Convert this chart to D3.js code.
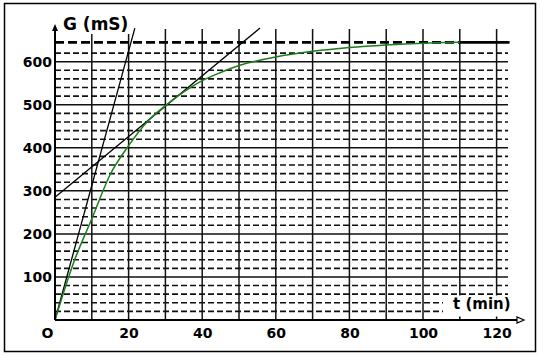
<!DOCTYPE html>
<html>
<head>
<meta charset="utf-8">
<script src="https://cdn.jsdelivr.net/npm/d3@7"></script>
<style>
  body { margin: 0; background: #fff; }
  svg { display: block; }
</style>
</head>
<body>
<div id="chart"></div>
<script>
// data
var xTickLabels = [0, 20, 40, 60, 80, 100, 120];
var yTickLabels = [100, 200, 300, 400, 500, 600];
var vGrid = [10, 20, 30, 40, 50, 60, 70, 80, 90, 100, 110, 120];
var hMajor = [100, 200, 300, 400, 500, 600];
var hMinor = [20, 40, 60, 80, 120, 140, 160, 180, 220, 240, 260, 280, 320, 340, 360, 380,
    420, 440, 460, 480, 520, 540, 560, 580, 620];
var asymptote = 645;

// measured conductance curve
var curveT = [0, 5, 10, 15, 20, 25, 30, 35, 40, 45, 50, 60, 70, 80, 90, 100, 110, 123.5];
var curveG = [0, 132, 235, 338, 405, 460, 498, 530, 556, 575, 591, 611, 624, 633, 639, 643, 645, 645];

// tangent lines (at t = 0 and t = 30)
var tangent1T = [0, 21.7];
var tangent1G = [0, 678];
var tangent2T = [0, 55.7];
var tangent2G = [285, 678];

var width = 545, height = 356;

var svg = d3.select("#chart")
    .append("svg")
    .attr("width", width)
    .attr("height", height);

var x = d3.scaleLinear().domain([0, 120]).range([55, 496.6]);
var y = d3.scaleLinear().domain([0, 600]).range([320, 61.7]);

var gridRight = 123.1;
var gridTop = 676;

// frame
svg.append("rect")
    .attr("x", 4.5).attr("y", 3.5)
    .attr("width", 531).attr("height", 348)
    .attr("fill", "none")
    .attr("stroke", "#000")
    .attr("stroke-width", 1.5);

// vertical grid
svg.append("g").selectAll("line")
    .data(vGrid)
    .join("line")
    .attr("x1", d => x(d)).attr("x2", d => x(d))
    .attr("y1", y(0)).attr("y2", y(gridTop))
    .attr("stroke", "#111")
    .attr("stroke-width", 1.5);

// horizontal grid
svg.append("g").selectAll("line")
    .data(hMajor)
    .join("line")
    .attr("x1", x(0)).attr("x2", x(gridRight))
    .attr("y1", d => y(d)).attr("y2", d => y(d))
    .attr("stroke", "#111")
    .attr("stroke-width", 1.5);

svg.append("g").selectAll("line")
    .data(hMinor)
    .join("line")
    .attr("x1", x(0)).attr("x2", x(gridRight))
    .attr("y1", d => y(d)).attr("y2", d => y(d))
    .attr("stroke", "#111")
    .attr("stroke-width", 1.6)
    .attr("stroke-dasharray", "6,3");

// asymptote
svg.append("line")
    .attr("x1", x(0)).attr("x2", x(110))
    .attr("y1", y(asymptote)).attr("y2", y(asymptote))
    .attr("stroke", "#000")
    .attr("stroke-width", 2.7)
    .attr("stroke-dasharray", "9,4");

// label backgrounds
function labelBox(x0, y0, w, h) {
    svg.append("rect")
        .attr("x", x0).attr("y", y0)
        .attr("width", w).attr("height", h)
        .attr("fill", "#fff");
}
labelBox(60, 12, 72, 22);
labelBox(443, 295.5, 79, 21);

// tangents
var line = d3.line()
    .x(d => x(d[0]))
    .y(d => y(d[1]));

svg.append("path")
    .datum(d3.zip(tangent1T, tangent1G))
    .attr("d", line)
    .attr("fill", "none")
    .attr("stroke", "#000")
    .attr("stroke-width", 1.3);

svg.append("path")
    .datum(d3.zip(tangent2T, tangent2G))
    .attr("d", line)
    .attr("fill", "none")
    .attr("stroke", "#000")
    .attr("stroke-width", 1.3);

// curve
svg.append("path")
    .datum(d3.zip(curveT, curveG))
    .attr("d", line.curve(d3.curveMonotoneX))
    .attr("fill", "none")
    .attr("stroke", "#1e7d1e")
    .attr("stroke-width", 1.5);

// solid end of the asymptote where the curve has merged
svg.append("line")
    .attr("x1", x(110)).attr("x2", x(123.5))
    .attr("y1", y(asymptote)).attr("y2", y(asymptote))
    .attr("stroke", "#000")
    .attr("stroke-width", 2.7);

// axes lines with arrows
svg.append("line")
    .attr("x1", x(0)).attr("x2", x(0))
    .attr("y1", y(0)).attr("y2", 29)
    .attr("stroke", "#000")
    .attr("stroke-width", 2);
svg.append("path")
    .attr("d", "M" + x(0) + ",24 L" + (x(0) - 3) + ",31 L" + (x(0) + 3) + ",31 Z")
    .attr("fill", "#000");

svg.append("line")
    .attr("x1", x(0)).attr("x2", 520)
    .attr("y1", y(0)).attr("y2", y(0))
    .attr("stroke", "#000")
    .attr("stroke-width", 2);
svg.append("path")
    .attr("d", "M524," + y(0) + " L517," + (y(0) - 3) + " L517," + (y(0) + 3) + " Z")
    .attr("fill", "#fff")
    .attr("stroke", "#000")
    .attr("stroke-width", 1.2);

// tick labels
var yAxis = svg.append("g")
    .attr("transform", "translate(" + x(0) + ",0)")
    .call(d3.axisLeft(y).tickValues(yTickLabels).tickSize(0).tickPadding(3));
yAxis.select(".domain").remove();

var xAxis = svg.append("g")
    .attr("transform", "translate(0," + y(0) + ")")
    .call(d3.axisBottom(x).tickValues(xTickLabels).tickSize(0).tickPadding(8)
        .tickFormat(d => d === 0 ? "O" : d));
xAxis.select(".domain").remove();
xAxis.selectAll("text")
    .filter(d => d === 0)
    .attr("text-anchor", "end")
    .attr("x", -2);

svg.selectAll(".tick text")
    .attr("fill", "#000")
    .style("font-family", "'DejaVu Sans', sans-serif")
    .style("font-size", "14px")
    .style("font-weight", "bold");

// axis titles
svg.append("text")
    .attr("x", 63)
    .attr("y", 30)
    .style("font-family", "'DejaVu Sans', sans-serif")
    .style("font-size", "17px")
    .style("font-weight", "bold")
    .text("G (mS)");

svg.append("text")
    .attr("x", 453)
    .attr("y", 309)
    .style("font-family", "'DejaVu Sans', sans-serif")
    .style("font-size", "15px")
    .style("font-weight", "bold")
    .text("t (min)");
</script>
</body>
</html>
